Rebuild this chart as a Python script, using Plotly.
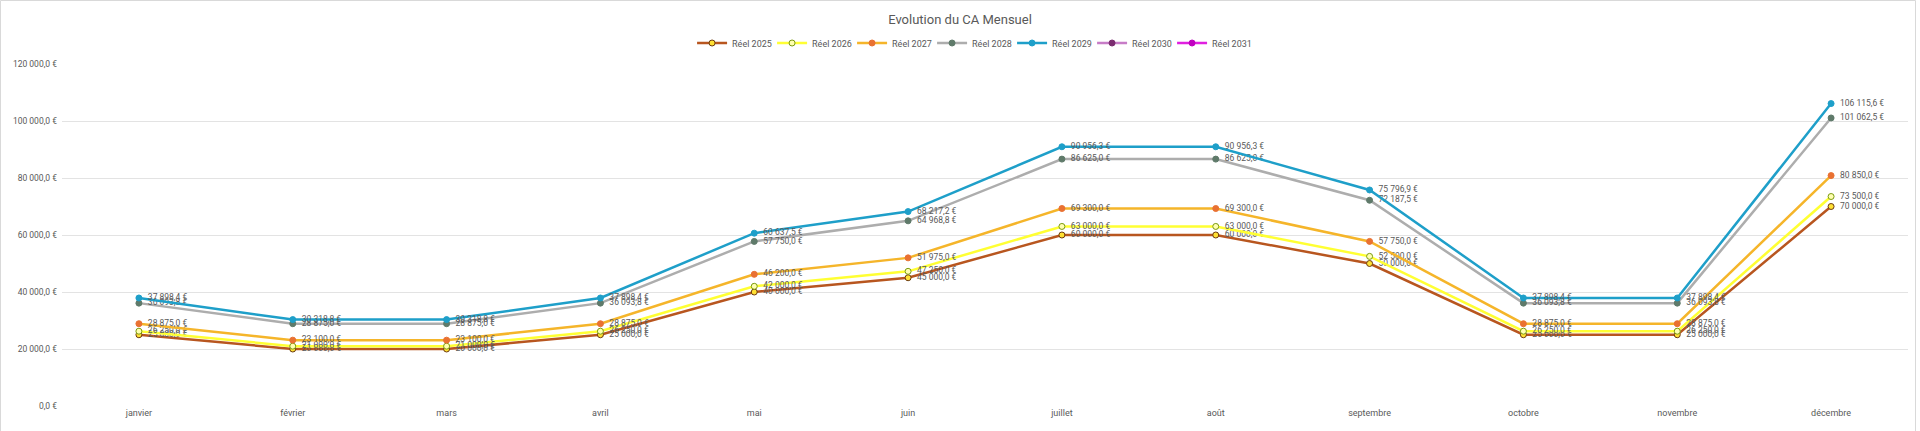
import plotly.graph_objects as go

months = ["janvier", "février", "mars", "avril", "mai", "juin", "juillet", "août",
          "septembre", "octobre", "novembre", "décembre"]

reel_2025 = [25000, 20000, 20000, 25000, 40000, 45000, 60000, 60000, 50000, 25000, 25000, 70000]
reel_2026 = [26250, 21000, 21000, 26250, 42000, 47250, 63000, 63000, 52500, 26250, 26250, 73500]
reel_2027 = [28875, 23100, 23100, 28875, 46200, 51975, 69300, 69300, 57750, 28875, 28875, 80850]
reel_2028 = [36093.8, 28875, 28875, 36093.8, 57750, 64968.8, 86625, 86625, 72187.5, 36093.8, 36093.8, 101062.5]
reel_2029 = [37898.4, 30318.8, 30318.8, 37898.4, 60637.5, 68217.2, 90956.3, 90956.3, 75796.9, 37898.4, 37898.4, 106115.6]
reel_2030 = [None] * 12
reel_2031 = [None] * 12

y_ticks = [0, 20000, 40000, 60000, 80000, 100000, 120000]
y_tick_labels = ["0,0 €", "20 000,0 €", "40 000,0 €", "60 000,0 €", "80 000,0 €",
                 "100 000,0 €", "120 000,0 €"]

series = [
    ("Réel 2025", reel_2025, "#B8561F", "#FFE033", "#6B3A10"),
    ("Réel 2026", reel_2026, "#FFFF33", "#FFFFB0", "#7A9A10"),
    ("Réel 2027", reel_2027, "#F5B52A", "#E97132", "#E97132"),
    ("Réel 2028", reel_2028, "#ADADAD", "#5F7A6A", "#5F7A6A"),
    ("Réel 2029", reel_2029, "#1E9FC9", "#1E9FC9", "#1E9FC9"),
    ("Réel 2030", reel_2030, "#C77CC7", "#7B2C70", "#7B2C70"),
    ("Réel 2031", reel_2031, "#E020E0", "#C000C0", "#C000C0"),
]

FONT = "Roboto"
TXT = "#595959"

fig = go.Figure()
for name, vals, lc, mfill, mline in series:
    fig.add_trace(go.Scatter(
        x=months, y=vals, name=name, mode="lines+markers+text",
        line=dict(color=lc, width=2.5),
        marker=dict(size=6, color=mfill, line=dict(color=mline, width=1)),
        texttemplate="  %{y:,.1f} €", textposition="middle right",
        textfont=dict(family=FONT, size=8.5, color=TXT),
        cliponaxis=False,
    ))

W, H = 1920, 431
L, R, T, B = 62, 12, 64, 25
pw, ph = W - L - R, H - T - B

def px_x(p):
    return (p - L) / pw

def px_y(p):
    return (H - B - p) / ph

fig.update_layout(
    width=W, height=H,
    margin=dict(l=L, r=R, t=T, b=B, autoexpand=False),
    paper_bgcolor="white", plot_bgcolor="white",
    separators=", ",
    font=dict(family=FONT, size=9, color=TXT),
    title=dict(text="Evolution du CA Mensuel", x=0.5, xanchor="center",
               y=1 - 19.5 / H, yanchor="middle", yref="container",
               font=dict(family=FONT, size=13, color=TXT)),
    legend=dict(orientation="h", x=0.493, xanchor="center", y=px_y(43), yanchor="middle",
                font=dict(family=FONT, size=9, color=TXT), itemwidth=30,
                entrywidth=35, entrywidthmode="pixels", bgcolor="rgba(0,0,0,0)"),
    xaxis=dict(type="category", range=[-0.5, 11.5], showgrid=False, zeroline=False,
               showline=False, ticks="", automargin=False,
               tickfont=dict(family=FONT, size=9, color=TXT)),
    yaxis=dict(range=[0, 120000], tickvals=y_ticks, ticktext=y_tick_labels,
               showgrid=True, gridcolor="#E3E3E3", gridwidth=1, zeroline=False,
               showline=False, ticks="", ticklabelstandoff=4, automargin=False,
               tickfont=dict(family=FONT, size=8.5, color=TXT)),
    showlegend=True,
    shapes=[dict(type="rect", xref="paper", yref="paper",
                 x0=px_x(0.5), x1=px_x(1915.5), y0=px_y(440), y1=px_y(0.5),
                 line=dict(color="#D9D9D9", width=1), fillcolor="rgba(0,0,0,0)", layer="below")],
)

fig.write_html("out.html")
